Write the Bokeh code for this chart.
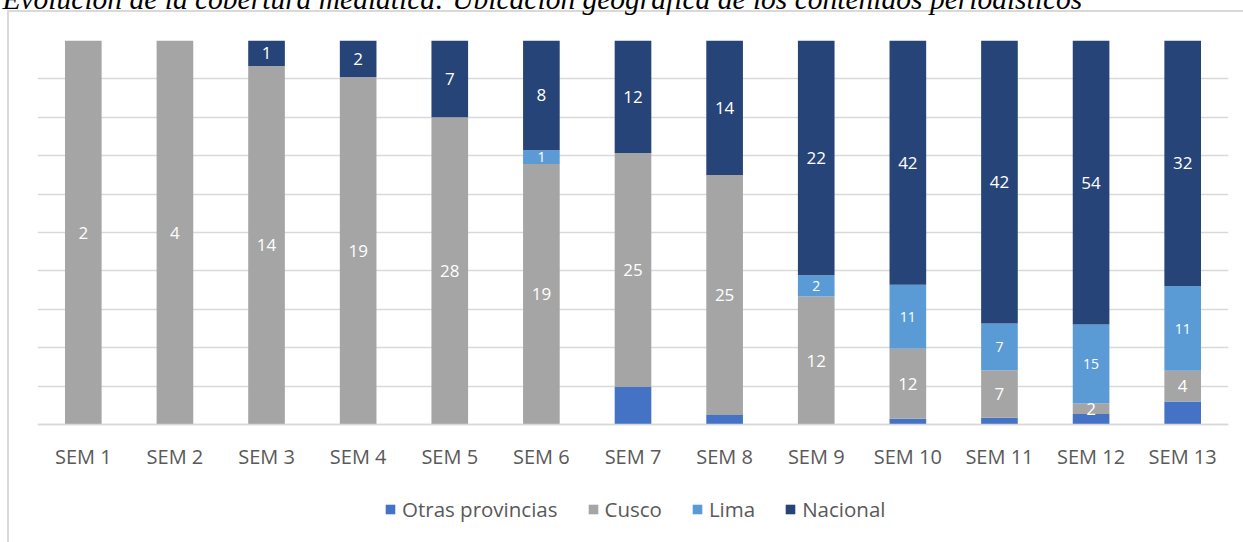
from bokeh.plotting import figure
from bokeh.models import ColumnDataSource, FixedTicker, Legend, Range1d
from bokeh.core.properties import value
from bokeh.embed import file_html
from bokeh.resources import INLINE

title_text = "Evolución de la cobertura mediática: Ubicación geográfica de los contenidos periodísticos"
categories = ["SEM 1", "SEM 2", "SEM 3", "SEM 4", "SEM 5", "SEM 6", "SEM 7",
              "SEM 8", "SEM 9", "SEM 10", "SEM 11", "SEM 12", "SEM 13"]
series_names = ["Otras provincias", "Cusco", "Lima", "Nacional"]
otras = [0, 0, 0, 0, 0, 0, 4, 1, 0, 1, 1, 2, 3]
cusco = [2, 4, 14, 19, 28, 19, 25, 25, 12, 12, 7, 2, 4]
lima = [0, 0, 0, 0, 0, 1, 0, 0, 2, 11, 7, 15, 11]
nacional = [0, 0, 1, 2, 7, 8, 12, 14, 22, 42, 42, 54, 32]
colors = ["#4472C4", "#A5A5A5", "#5B9BD5", "#264478"]

series = [otras, cusco, lima, nacional]
keys = ["otras", "cusco", "lima", "nacional"]
totals = [sum(v) for v in zip(*series)]
data = {"cat": categories}
for k, s in zip(keys, series):
    data[k] = [v / t for v, t in zip(s, totals)]
source = ColumnDataSource(data)

# layout (canvas pixels): canvas starts 60px above the page top
SHIFT = 60
W, H = 1243, 542 + SHIFT
frame_top = 40 + SHIFT
zero_y = 424 + SHIFT
unit = zero_y - frame_top
p = figure(x_range=categories, y_range=Range1d(-(H - zero_y) / unit, 1),
           width=W, height=H, output_backend="svg", toolbar_location=None,
           min_border_left=37, min_border_right=15, min_border_top=frame_top,
           min_border_bottom=0, title=title_text)
p.styles = {
    "margin-top": f"-{SHIFT}px",
    "background-image": "linear-gradient(#D9D9D9, #D9D9D9), linear-gradient(#D9D9D9, #D9D9D9)",
    "background-size": "100% 2px, 2px 100%",
    "background-position": f"7px {10 + SHIFT}px, 7px {10 + SHIFT}px",
    "background-repeat": "no-repeat",
}
p.outline_line_color = None
p.border_fill_color = None
p.background_fill_color = None

p.title.text_font = "Liberation Serif"
p.title.text_font_style = "italic"
p.title.text_font_size = "29.5px"
p.title.text_color = "black"
p.title.align = "left"
p.title.offset = -35
p.title.standoff = 52
p.title.vertical_align = "bottom"

renderers = p.vbar_stack(keys, x="cat", width=0.4, source=source, color=colors,
                         line_color=None)

# data labels (not shown for Otras provincias)
lab_x, lab_y, lab_t, lab_s = [], [], [], []
for i, c in enumerate(categories):
    base = 0.0
    for k, s in zip(keys, series):
        frac = s[i] / totals[i]
        if s[i] > 0 and k != "otras":
            lab_x.append(c)
            lab_y.append(base + frac / 2)
            lab_t.append(str(s[i]))
            lab_s.append("14px" if k == "lima" else "17px")
        base += frac
lsrc = ColumnDataSource(dict(x=lab_x, y=lab_y, t=lab_t, s=lab_s))
p.text(x="x", y="y", text="t", source=lsrc, text_color="white",
       text_font=value("Open Sans"), text_font_size="s",
       text_align="center", text_baseline="middle")

p.yaxis.visible = False
p.yaxis.ticker = FixedTicker(ticks=[i / 10 for i in range(11)])
p.ygrid.grid_line_color = "#D9D9D9"
p.ygrid.grid_line_width = 1.5
p.xgrid.grid_line_color = None

p.xaxis.fixed_location = 0
p.xaxis.axis_line_color = "#D9D9D9"
p.xaxis.axis_line_width = 1.5
p.xaxis.major_tick_line_color = None
p.xaxis.minor_tick_line_color = None
p.xaxis.major_tick_out = 0
p.xaxis.major_tick_in = 0
p.xaxis.major_label_text_font = "Open Sans"
p.xaxis.major_label_text_font_size = "20px"
p.xaxis.major_label_text_color = "#595959"
p.xaxis.major_label_standoff = 18

legend = Legend(items=[(n, [r]) for n, r in zip(series_names, renderers)],
                orientation="horizontal", location=(347, 19))
legend.label_text_font = "Open Sans"
legend.label_text_font_size = "20.5px"
legend.label_text_color = "#595959"
legend.glyph_width = 12
legend.glyph_height = 12
legend.spacing = 29
legend.label_standoff = 6
legend.border_line_color = None
legend.background_fill_alpha = 0
legend.padding = 0
legend.margin = 0
p.add_layout(legend, "center")

open("out.html", "w").write(file_html(p, INLINE))
